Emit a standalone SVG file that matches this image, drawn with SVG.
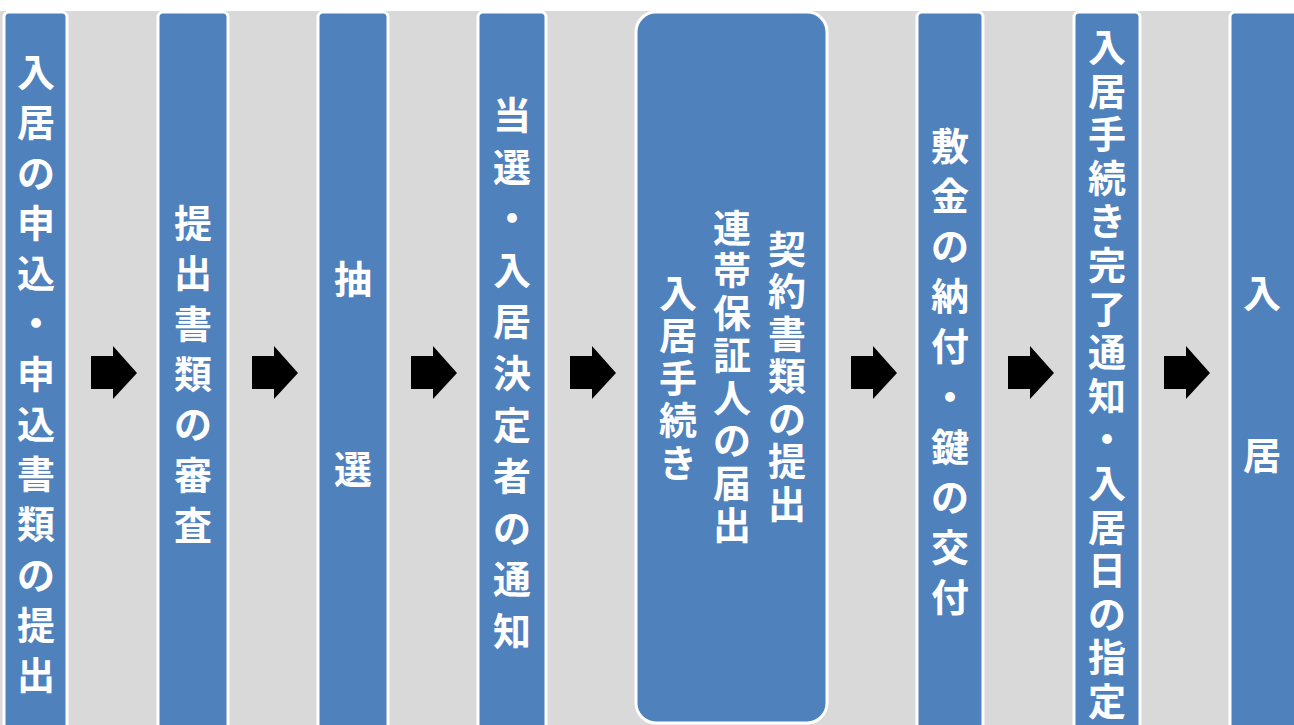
<svg xmlns="http://www.w3.org/2000/svg" width="1294" height="725" viewBox="0 0 1294 725">
<style>
.col{fill:#4F81BD;stroke:#FFFFFF;stroke-width:3}
.t{font-family:"Noto Sans CJK JP","Noto Sans CJK SC",sans-serif;font-weight:bold;font-size:38px;fill:#FFFFFF;text-anchor:middle;dominant-baseline:central}
</style>
<defs>
<path id="arr" d="M0,10 H22 V0 L46,27 L22,53 V43 H0 Z" fill="#000000"/>
</defs>
<rect x="0" y="11" width="1294" height="714" fill="#D9D9D9"/>
<g id="n1"><rect class="col" x="4" y="12" width="63" height="760" rx="5"/>
<text class="t"><tspan x="36" y="69">入</tspan><tspan x="36" y="119">居</tspan><tspan x="36" y="170">の</tspan><tspan x="36" y="220">申</tspan><tspan x="36" y="270">込</tspan><tspan x="36" y="320">・</tspan><tspan x="36" y="371">申</tspan><tspan x="36" y="421">込</tspan><tspan x="36" y="471">書</tspan><tspan x="36" y="521">類</tspan><tspan x="36" y="572">の</tspan><tspan x="36" y="622">提</tspan><tspan x="36" y="672">出</tspan></text></g>
<g id="n2"><rect class="col" x="158" y="12" width="70" height="760" rx="5"/>
<text class="t"><tspan x="193" y="220">提</tspan><tspan x="193" y="270">出</tspan><tspan x="193" y="321">書</tspan><tspan x="193" y="371">類</tspan><tspan x="193" y="421">の</tspan><tspan x="193" y="472">審</tspan><tspan x="193" y="522">査</tspan></text></g>
<g id="n3"><rect class="col" x="318" y="12" width="70" height="760" rx="5"/>
<text class="t"><tspan x="353" y="276">抽</tspan><tspan x="353" y="466">選</tspan></text></g>
<g id="n4"><rect class="col" x="478" y="12" width="68" height="760" rx="5"/>
<text class="t"><tspan x="512" y="112">当</tspan><tspan x="512" y="164">選</tspan><tspan x="512" y="215">・</tspan><tspan x="512" y="267">入</tspan><tspan x="512" y="318">居</tspan><tspan x="512" y="370">決</tspan><tspan x="512" y="422">定</tspan><tspan x="512" y="473">者</tspan><tspan x="512" y="525">の</tspan><tspan x="512" y="576">通</tspan><tspan x="512" y="628">知</tspan></text></g>
<g id="n5"><rect class="col" x="636" y="12" width="191" height="711" rx="20"/>
<text class="t"><tspan x="787" y="246">契</tspan><tspan x="787" y="288">約</tspan><tspan x="787" y="331">書</tspan><tspan x="787" y="373">類</tspan><tspan x="787" y="416">の</tspan><tspan x="787" y="458">提</tspan><tspan x="787" y="501">出</tspan></text>
<text class="t"><tspan x="732" y="225">連</tspan><tspan x="732" y="267">帯</tspan><tspan x="732" y="310">保</tspan><tspan x="732" y="352">証</tspan><tspan x="732" y="395">人</tspan><tspan x="732" y="437">の</tspan><tspan x="732" y="480">届</tspan><tspan x="732" y="522">出</tspan></text>
<text class="t"><tspan x="678" y="290">入</tspan><tspan x="678" y="332">居</tspan><tspan x="678" y="375">手</tspan><tspan x="678" y="417">続</tspan><tspan x="678" y="460">き</tspan></text></g>
<g id="n6"><rect class="col" x="917" y="12" width="66" height="760" rx="5"/>
<text class="t"><tspan x="950" y="143">敷</tspan><tspan x="950" y="193">金</tspan><tspan x="950" y="243">の</tspan><tspan x="950" y="293">納</tspan><tspan x="950" y="343">付</tspan><tspan x="950" y="394">・</tspan><tspan x="950" y="444">鍵</tspan><tspan x="950" y="494">の</tspan><tspan x="950" y="544">交</tspan><tspan x="950" y="594">付</tspan></text></g>
<g id="n7"><rect class="col" x="1074" y="12" width="66" height="760" rx="5"/>
<text class="t"><tspan x="1107" y="44">入</tspan><tspan x="1107" y="88">居</tspan><tspan x="1107" y="131">手</tspan><tspan x="1107" y="175">続</tspan><tspan x="1107" y="218">き</tspan><tspan x="1107" y="262">完</tspan><tspan x="1107" y="306">了</tspan><tspan x="1107" y="349">通</tspan><tspan x="1107" y="393">知</tspan><tspan x="1107" y="436">・</tspan><tspan x="1107" y="480">入</tspan><tspan x="1107" y="524">居</tspan><tspan x="1107" y="567">日</tspan><tspan x="1107" y="611">の</tspan><tspan x="1107" y="654">指</tspan><tspan x="1107" y="698">定</tspan></text></g>
<g id="n8"><rect class="col" x="1230" y="12" width="80" height="760" rx="5"/>
<text class="t"><tspan x="1262" y="290">入</tspan><tspan x="1262" y="452">居</tspan></text></g>
<g id="connectors">
<use href="#arr" x="91" y="346"/>
<use href="#arr" x="252" y="346"/>
<use href="#arr" x="411" y="346"/>
<use href="#arr" x="570" y="346"/>
<use href="#arr" x="851" y="346"/>
<use href="#arr" x="1008" y="346"/>
<use href="#arr" x="1164" y="346"/>
</g>
</svg>
